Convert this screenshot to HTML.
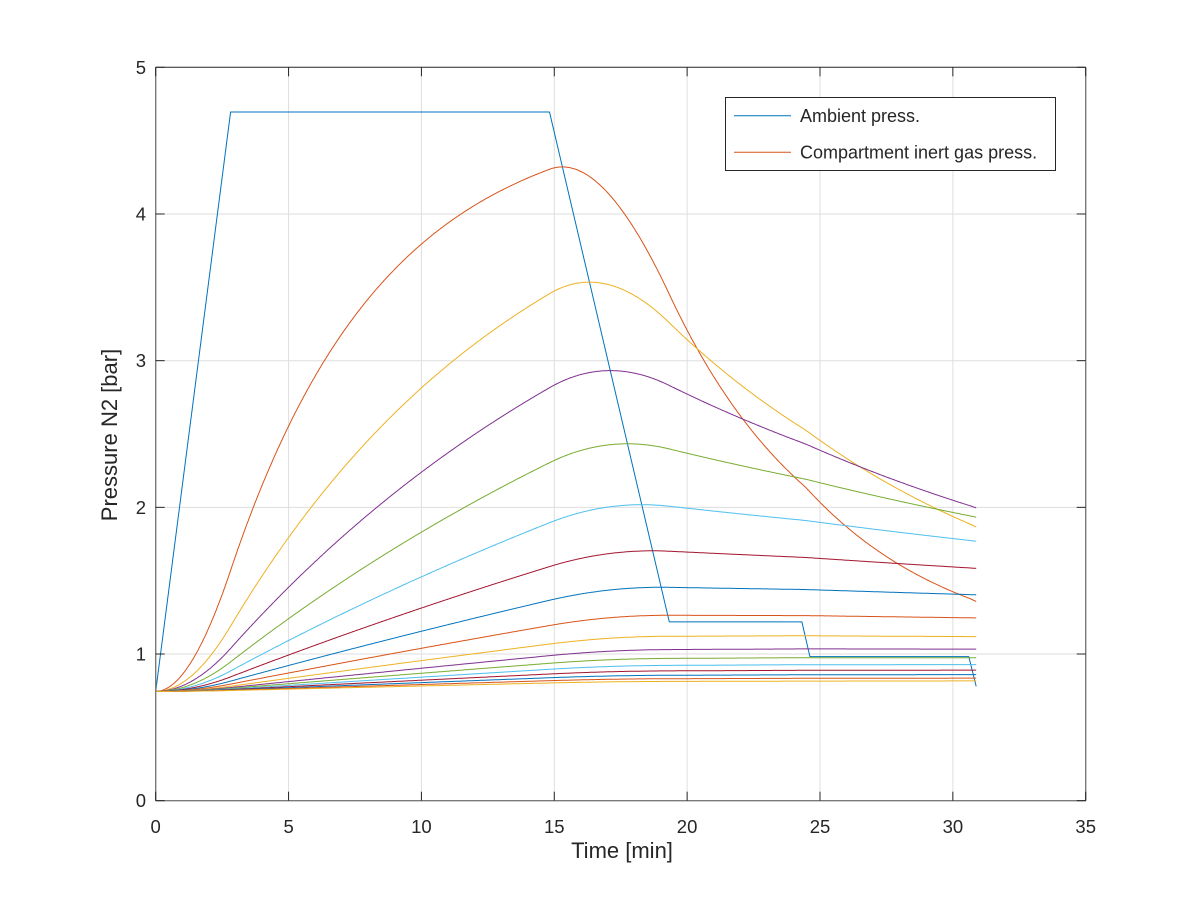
<!DOCTYPE html>
<html><head><meta charset="utf-8"><style>
html,body{margin:0;padding:0;background:#fff;}
svg{display:block;}
text{font-family:"Liberation Sans",Arial,sans-serif;fill:#262626;}
</style></head><body>
<svg id="s" width="1200" height="900" viewBox="0 0 1200 900" xmlns="http://www.w3.org/2000/svg">
<rect x="0" y="0" width="1200" height="900" fill="#fff"/>
<g stroke="#dedede" stroke-width="1" fill="none">
<line x1="288.6" y1="67.3" x2="288.6" y2="800.7"/>
<line x1="421.4" y1="67.3" x2="421.4" y2="800.7"/>
<line x1="554.3" y1="67.3" x2="554.3" y2="800.7"/>
<line x1="687.1" y1="67.3" x2="687.1" y2="800.7"/>
<line x1="820.0" y1="67.3" x2="820.0" y2="800.7"/>
<line x1="952.9" y1="67.3" x2="952.9" y2="800.7"/>
<line x1="155.7" y1="654.0" x2="1085.7" y2="654.0"/>
<line x1="155.7" y1="507.4" x2="1085.7" y2="507.4"/>
<line x1="155.7" y1="360.7" x2="1085.7" y2="360.7"/>
<line x1="155.7" y1="214.0" x2="1085.7" y2="214.0"/>
</g>
<g id="data" fill="none" stroke-width="1" stroke-linejoin="round">
<path id="amb" stroke="#0072BD" d=""/>
</g>
<g stroke="#7a7a7a" stroke-width="1.4" fill="none">
<line x1="155.7" y1="67.3" x2="155.7" y2="800.7"/>
<line x1="155.7" y1="800.7" x2="1085.7" y2="800.7"/>
<line x1="1085.7" y1="67.3" x2="1085.7" y2="800.7"/>
</g>
<line x1="155.7" y1="67.3" x2="1085.7" y2="67.3" stroke="#262626" stroke-width="1"/>
<g stroke="#262626" stroke-width="1" id="ticks"></g>
<g font-size="18.5" text-anchor="middle">
<text x="155.7" y="833">0</text>
<text x="288.6" y="833">5</text>
<text x="421.4" y="833">10</text>
<text x="554.3" y="833">15</text>
<text x="687.1" y="833">20</text>
<text x="820.0" y="833">25</text>
<text x="952.9" y="833">30</text>
<text x="1085.7" y="833">35</text>
</g>
<g font-size="18.5" text-anchor="end">
<text x="146" y="807.2">0</text>
<text x="146" y="660.5">1</text>
<text x="146" y="513.9">2</text>
<text x="146" y="367.2">3</text>
<text x="146" y="220.5">4</text>
<text x="146" y="73.8">5</text>
</g>
<text x="622" y="858" font-size="22" text-anchor="middle">Time [min]</text>
<text transform="translate(117,435) rotate(-90)" font-size="22" text-anchor="middle">Pressure N2 [bar]</text>
<rect x="725.5" y="97.5" width="330" height="73" fill="#fff" stroke="#262626" stroke-width="1"/>
<line x1="734" y1="115.7" x2="791" y2="115.7" stroke="#0072BD" stroke-width="1"/>
<line x1="734" y1="152.3" x2="791" y2="152.3" stroke="#D95319" stroke-width="1"/>
<text x="800" y="122" font-size="18">Ambient press.</text>
<text x="800" y="158.6" font-size="18">Compartment inert gas press.</text>
</svg>
<script>
(function(){
var NS="http://www.w3.org/2000/svg";
var X0=155.7,XS=26.5714,Y0=800.7,YS=146.68;
function px(t){return X0+t*XS;}
function py(p){return Y0-p*YS;}
var prof=[[0,0],[2.82,50],[14.82,50],[19.33,6],[24.32,6],[24.62,3],[30.6,3],[30.88,0.43]];
function pin(d){return (1+d/10-0.0567)*0.79;}
function depth(t){
  for(var i=1;i<prof.length;i++){
    if(t<=prof[i][0]){var t0=prof[i-1][0],d0=prof[i-1][1],t1=prof[i][0],d1=prof[i][1];
      return d0+(d1-d0)*(t-t0)/(t1-t0);}
  }
  return prof[prof.length-1][1];
}
var a="";
for(var i=0;i<prof.length;i++){a+=(i?"L":"M")+px(prof[i][0]).toFixed(1)+" "+py(pin(prof[i][1])).toFixed(1);}
document.getElementById("amb").setAttribute("d",a);
var order=['#0072BD','#D95319','#EDB120','#7E2F8E','#77AC30','#4DBEEE','#A2142F'];
var ht=[4,8,12.5,18.5,27,38.3,54.3,77,109,146,187,239,305,390,498,635];
var g=document.getElementById("data");
var T=30.88,N=1544,dt=T/N;
for(var c=0;c<ht.length;c++){
  var k=Math.LN2/ht[c];
  var P=pin(0);
  var d="M"+px(0).toFixed(1)+" "+py(P).toFixed(1);
  for(var s=0;s<N;s++){
    var t=s*dt;
    var A=pin(depth(t)),B=pin(depth(t+dt));
    var R=(B-A)/dt;
    P=A+R*(dt-1/k)-(A-P-R/k)*Math.exp(-k*dt);
    if(s%2==1||s==N-1) d+="L"+px(t+dt).toFixed(1)+" "+py(P).toFixed(1);
  }
  var p=document.createElementNS(NS,"path");
  p.setAttribute("d",d);
  p.setAttribute("stroke",order[(c+1)%7]);
  g.appendChild(p);
}
var tk=document.getElementById("ticks");
function ln(x1,y1,x2,y2){var l=document.createElementNS(NS,"line");l.setAttribute("x1",x1);l.setAttribute("y1",y1);l.setAttribute("x2",x2);l.setAttribute("y2",y2);tk.appendChild(l);}
for(var i=0;i<=7;i++){var x=px(i*5);ln(x,800.7,x,791.7);ln(x,67.3,x,76.3);}
for(var j=0;j<=5;j++){var y=py(j);ln(155.7,y,164.7,y);ln(1085.7,y,1076.7,y);}
})();
</script>
</body></html>
